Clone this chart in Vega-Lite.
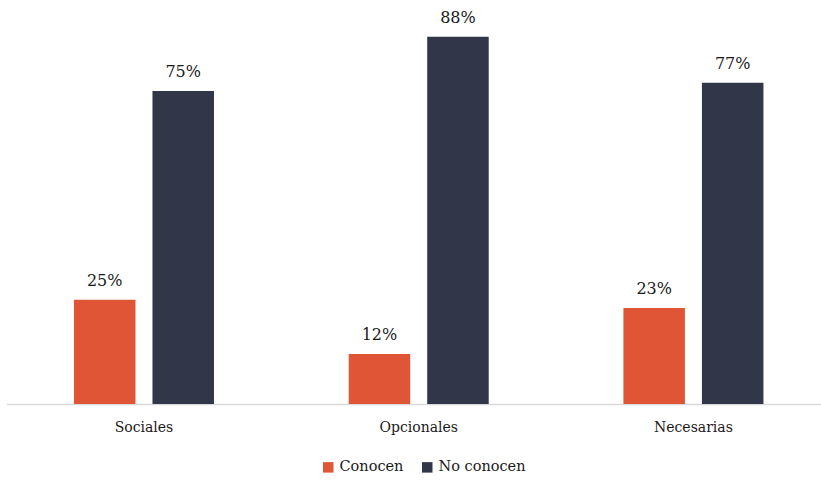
{
  "$schema": "https://vega.github.io/schema/vega-lite/v6.json",
  "autosize": {"type": "none"},
  "padding": {"left": 7, "top": 0, "right": 0, "bottom": 78},
  "width": 814,
  "height": 404,
  "background": "white",
  "config": {
    "view": {"stroke": null},
    "font": "DejaVu Serif"
  },
  "data": {
    "values": [
      {"categoria": "Sociales", "serie": "Conocen", "valor": 0.25},
      {"categoria": "Sociales", "serie": "No conocen", "valor": 0.75},
      {"categoria": "Opcionales", "serie": "Conocen", "valor": 0.12},
      {"categoria": "Opcionales", "serie": "No conocen", "valor": 0.88},
      {"categoria": "Necesarias", "serie": "Conocen", "valor": 0.23},
      {"categoria": "Necesarias", "serie": "No conocen", "valor": 0.77}
    ]
  },
  "encoding": {
    "x": {
      "field": "categoria",
      "type": "nominal",
      "sort": ["Sociales", "Opcionales", "Necesarias"],
      "scale": {"paddingInner": 0, "paddingOuter": 0, "range": [-0.4, 823.8]},
      "axis": {
        "title": null,
        "labelAngle": 0,
        "labelFont": "DejaVu Serif",
        "labelFontSize": 14,
        "labelColor": "#1a1a1a",
        "labelPadding": 16,
        "ticks": false,
        "domainColor": "#D9D9D9",
        "domainWidth": 1.5
      }
    },
    "xOffset": {
      "field": "serie",
      "type": "nominal",
      "sort": ["Conocen", "No conocen"],
      "scale": {"paddingInner": 0.2166, "paddingOuter": 0.858}
    },
    "y": {
      "field": "valor",
      "type": "quantitative",
      "scale": {"domain": [0, 0.968], "nice": false},
      "axis": null
    }
  },
  "layer": [
    {
      "mark": {"type": "bar"},
      "encoding": {
        "color": {
          "field": "serie",
          "type": "nominal",
          "sort": ["Conocen", "No conocen"],
          "scale": {"domain": ["Conocen", "No conocen"], "range": ["#E05535", "#323649"]},
          "legend": {
            "title": null,
            "orient": "none",
            "direction": "horizontal",
            "legendX": 314,
            "legendY": 460,
            "symbolType": "square",
            "symbolSize": 110,
            "symbolStrokeWidth": 0,
            "labelFont": "DejaVu Serif",
            "labelFontSize": 14.5,
            "labelColor": "#1a1a1a",
            "labelOffset": 4,
            "columnPadding": 16
          }
        }
      }
    },
    {
      "mark": {"type": "text", "baseline": "alphabetic", "dy": -14, "fontSize": 16, "color": "#1a1a1a", "font": "DejaVu Serif"},
      "encoding": {
        "text": {"field": "valor", "type": "quantitative", "format": ".0%"}
      }
    }
  ]
}
